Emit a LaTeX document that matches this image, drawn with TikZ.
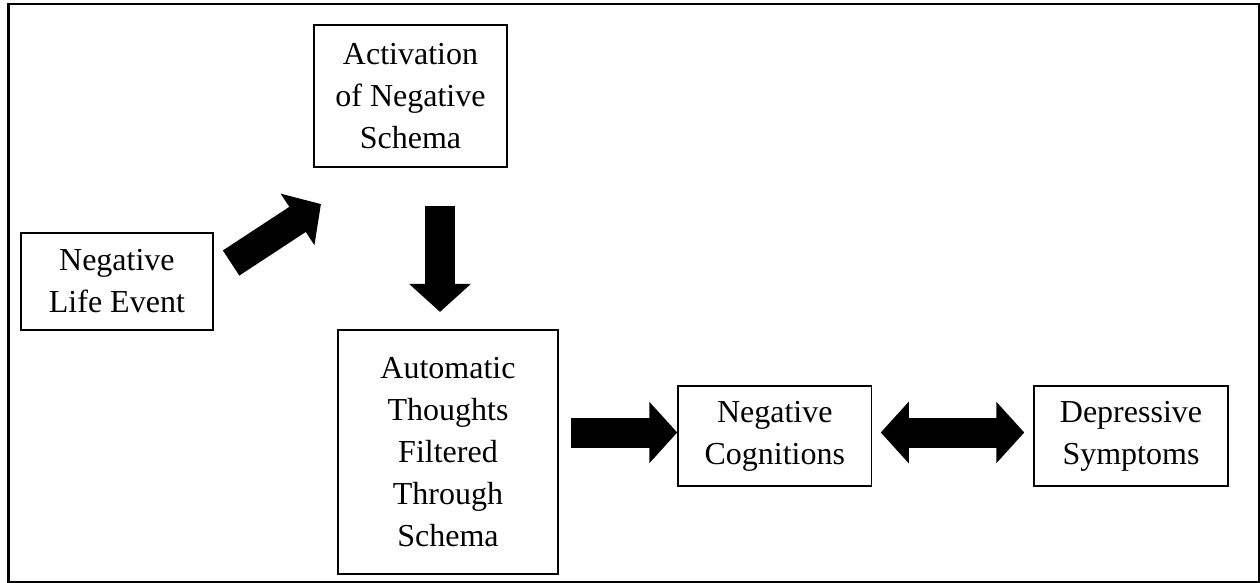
\documentclass[tikz,border=0pt]{standalone}
\usepackage{fontspec}
\setmainfont{Liberation Serif}
\usetikzlibrary{arrows.meta,calc}
\begin{document}
\begin{tikzpicture}[x=1pt,y=-1pt,
  box/.style={draw, line width=1.5pt, align=center, inner sep=0pt,
    font=\fontsize{32}{42}\selectfont},
  blk/.style={line width=30pt, -{Triangle[length=28pt,width=60pt]}},
  blkboth/.style={line width=30pt,
    {Triangle[length=28pt,width=60pt]}-{Triangle[length=28pt,width=60pt]}}]
\useasboundingbox (0,0) rectangle (1260,583);
\draw[line width=2.5pt] (8.7,4) rectangle (1259.5,582);
% boxes
\node[box, minimum width=192.3pt, minimum height=97pt] (nle) at (116.9,281.5)
  {Negative\\Life Event};
\node[box, minimum width=193pt, minimum height=142pt] (act) at (410.5,96)
  {Activation\\of Negative\\Schema};
\node[box, minimum width=220pt, minimum height=244pt] (aut) at (448,452)
  {Automatic\\Thoughts\\Filtered\\Through\\Schema};
\node[box, minimum width=193.5pt, minimum height=100pt] (nc) at (774.75,436)
  {Negative\\Cognitions};
\node[box, minimum width=194pt, minimum height=100pt] (dep) at (1131,436)
  {Depressive\\Symptoms};
% connectors
\draw[blk] ($(nle.east)+(17.3,-18.5)$) -- ($(act.south west)+(7.7,36.3)$);
\draw[blk] ($(act.south)+(29.5,38)$) -- ($(aut.north)+(-8,-17.3)$);
\draw[blk] ($(nc.west)+(-106,-3.5)$) -- ($(nc.west)+(0,-3.5)$);
\draw[blkboth] ($(nc.east)+(8.5,-3.5)$) -- ($(dep.west)+(-9,-3.5)$);
\end{tikzpicture}
\end{document}
